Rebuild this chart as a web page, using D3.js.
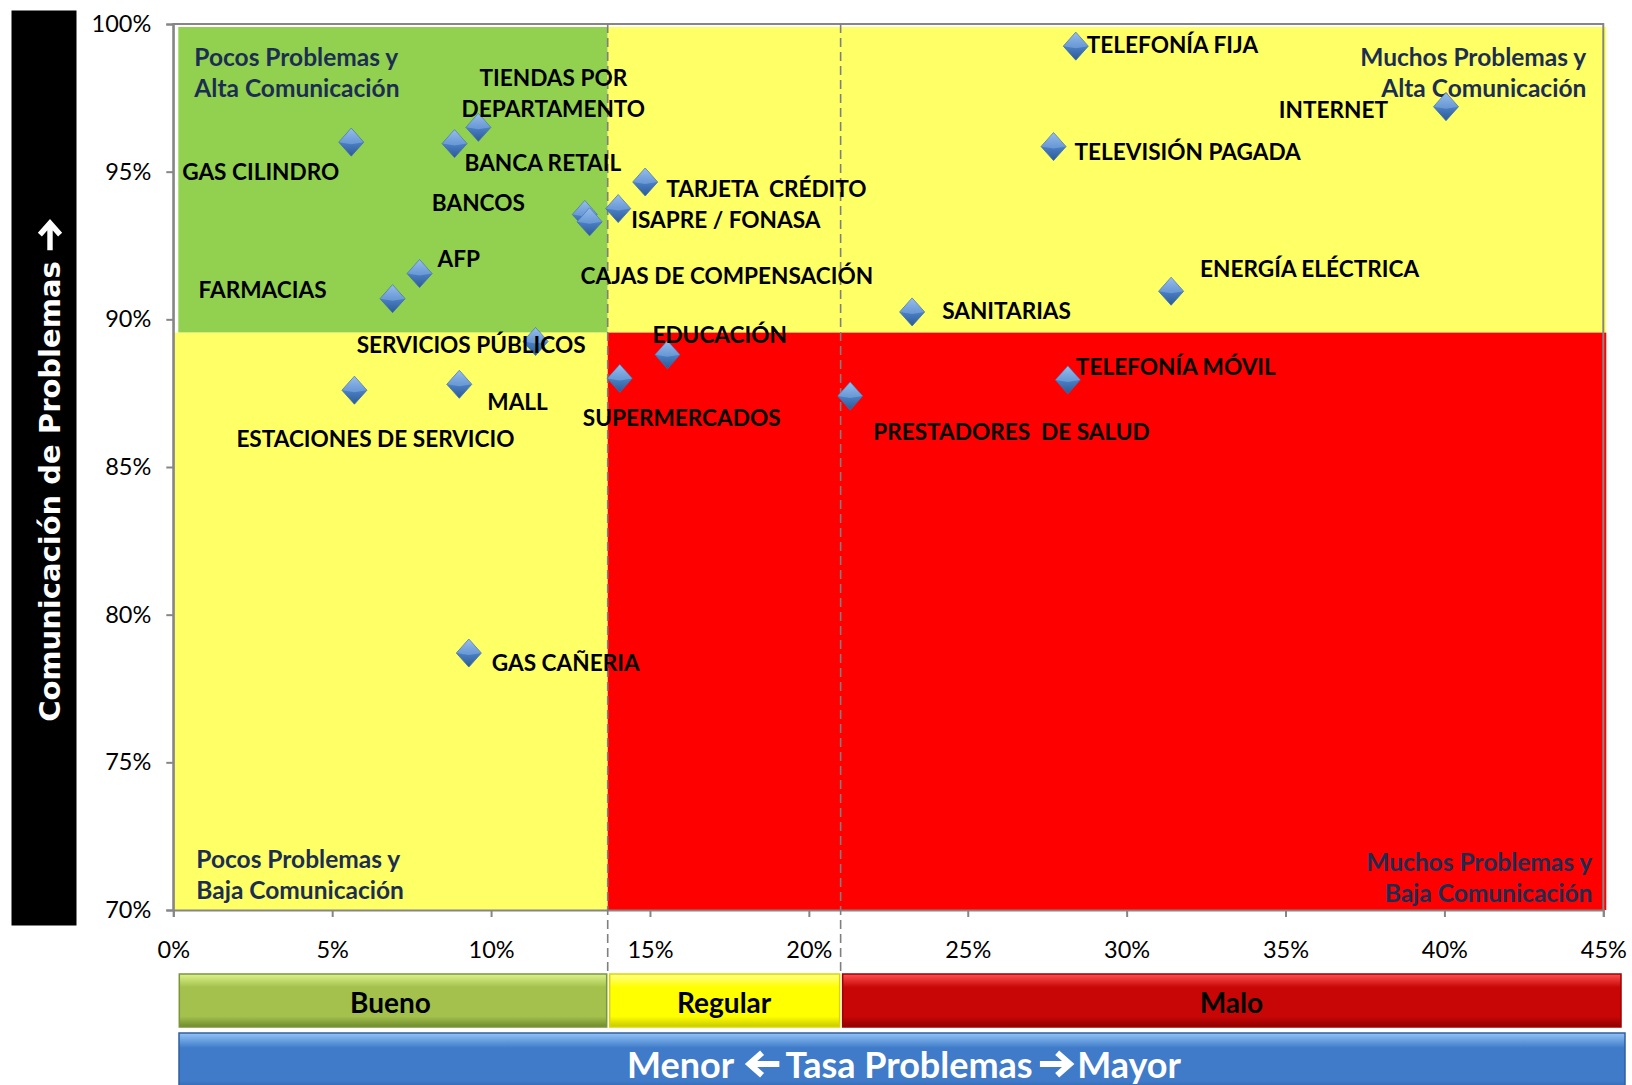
<!DOCTYPE html>
<html lang="es">
<head>
<meta charset="UTF-8">
<title>Tasa de problemas vs comunicación</title>
<script src="https://cdn.jsdelivr.net/npm/d3@7"></script>
<style>
  body { margin: 0; background: #fff; }
  svg { display: block; }
  text { white-space: pre; }
</style>
</head>
<body>
<div id="chart"></div>
<script>
// sectores y valores (tasa de problemas %, comunicación de problemas %)
const sectores = [
  "GAS CILINDRO", "TIENDAS POR|DEPARTAMENTO", "BANCA RETAIL", "BANCOS",
  "CAJAS DE COMPENSACIÓN", "ISAPRE / FONASA", "TARJETA  CRÉDITO", "AFP",
  "FARMACIAS", "SERVICIOS PÚBLICOS", "ESTACIONES DE SERVICIO", "MALL",
  "GAS CAÑERIA", "SUPERMERCADOS", "EDUCACIÓN", "PRESTADORES  DE SALUD",
  "SANITARIAS", "TELEFONÍA MÓVIL", "ENERGÍA ELÉCTRICA", "TELEVISIÓN PAGADA",
  "TELEFONÍA FIJA", "INTERNET"
]
const tasaProblemas = [
  5.6, 9.6, 8.85, 12.95, 13.1, 14.0, 14.85, 7.75, 6.9, 11.4, 5.7, 9.0,
  9.3, 14.05, 15.55, 21.3, 23.25, 28.15, 31.4, 27.7, 28.4, 40.05
]
const comunicacion = [
  96.0, 96.5, 95.95, 93.55, 93.3, 93.75, 94.65, 91.55, 90.7, 89.25, 87.6, 87.8,
  78.7, 88.0, 88.8, 87.4, 90.25, 87.95, 90.95, 95.85, 99.25, 97.2
]
const xTicks = [0, 5, 10, 15, 20, 25, 30, 35, 40, 45]
const yTicks = [70, 75, 80, 85, 90, 95, 100]

// cortes de las zonas
const corteBueno = 13.67
const corteRegular = 21.0
const corteComunicacion = 89.55
const bandas = ["Bueno", "Regular", "Malo"]

// posicion de cada etiqueta respecto a su punto [dx, dy, anchor]
const labelPos = [
  [-12, 29, "end"], [75, -50, "middle"], [10, 18, "start"], [-60, -12, "end"],
  [-9, 53, "start"], [13, 10, "start"], [21, 6, "start"], [18, -16, "start"],
  [-66, -10, "end"], [50, 3, "end"], [21, 48, "middle"], [28, 17, "start"],
  [23, 9, "start"], [-37, 39, "start"], [-15, -21, "start"], [23, 35, "start"],
  [30, -2, "start"], [8, -14, "start"], [29, -23, "start"], [21, 4, "start"],
  [11, -2, "start"], [-58, 2, "end"]
]

const W = 1632, H = 1085
const mLeft = 173.3, mRight = 1603.3, mTop = 24, mBottom = 910
const font = "Lato, 'Open Sans', sans-serif"
const EM = "\u2003"

const x = d3.scaleLinear().domain([0, 45]).range([mLeft, mRight])
const y = d3.scaleLinear().domain([70, 100]).range([mBottom, mTop])

const svg = d3.select("#chart").append("svg")
  .attr("width", W).attr("height", H)
  .style("background", "#fff")

const defs = svg.append("defs")

const mk = defs.append("linearGradient").attr("id", "diam")
  .attr("x1", 0).attr("y1", 0).attr("x2", 0).attr("y2", 1)
mk.append("stop").attr("offset", "0%").attr("stop-color", "#8FB7EA")
mk.append("stop").attr("offset", "45%").attr("stop-color", "#4F85CC")
mk.append("stop").attr("offset", "100%").attr("stop-color", "#2B5A96")

function bevel(id, c1, c2, c3) {
  const g = defs.append("linearGradient").attr("id", id)
    .attr("x1", 0).attr("y1", 0).attr("x2", 0).attr("y2", 1)
  g.append("stop").attr("offset", "0%").attr("stop-color", c1)
  g.append("stop").attr("offset", "25%").attr("stop-color", c2)
  g.append("stop").attr("offset", "80%").attr("stop-color", c2)
  g.append("stop").attr("offset", "100%").attr("stop-color", c3)
}
bevel("gBueno", "#DDF28C", "#A3C14C", "#6F8B2E")
bevel("gRegular", "#FFFF8A", "#FFFF00", "#C8C800")
bevel("gMalo", "#FF5050", "#C80606", "#8E0000")
bevel("gAzul", "#93C4F7", "#3F7BC9", "#2A5896")

// flecha gruesa dibujada sobre el hueco de un caracter
function flecha(g, textEl, idx, dir, color, size) {
  const a = textEl.getStartPositionOfChar(idx)
  const b = textEl.getEndPositionOfChar(idx)
  const cx = (a.x + b.x) / 2, cy = a.y
  const h = size / 2
  g.append("path")
    .attr("transform", `translate(${cx},${cy}) scale(${dir},1)`)
    .attr("d", `M${-h},0H${h - 1}M${h * 0.15},${-h * 0.75}L${h},0L${h * 0.15},${h * 0.75}`)
    .attr("fill", "none").attr("stroke", color)
    .attr("stroke-width", size * 0.2).attr("stroke-linejoin", "miter")
}

// zonas de fondo
const zonas = [
  { x0: 0, x1: corteBueno, y0: corteComunicacion, y1: 100, c: "#92D050", inset: 5 },
  { x0: corteBueno, x1: 45, y0: corteComunicacion, y1: 100, c: "#FFFF66", inset: 0 },
  { x0: 0, x1: corteBueno, y0: 70, y1: corteComunicacion, c: "#FFFF66", inset: 0 },
  { x0: corteBueno, x1: 45, y0: 70, y1: corteComunicacion, c: "#FF0000", inset: 0 }
]
svg.append("g").selectAll("rect").data(zonas).join("rect")
  .attr("x", d => x(d.x0) + d.inset)
  .attr("y", d => d.y1 === 100 ? y(d.y1) + 3 : y(d.y1))
  .attr("width", d => x(d.x1) - x(d.x0) - d.inset + (d.x1 === 45 ? 3 : 0))
  .attr("height", d => y(d.y0) - y(d.y1) - (d.y1 === 100 ? 3 : 0))
  .attr("fill", d => d.c)

// borde del area
svg.append("path")
  .attr("d", `M${mLeft},${mBottom}V${mTop}H${mRight}V${mBottom}`)
  .attr("fill", "none").attr("stroke", "#868686").attr("stroke-width", 2)

// ejes
const yAxis = svg.append("g").attr("transform", `translate(${mLeft},0)`)
  .call(d3.axisLeft(y).tickValues(yTicks).tickSize(7).tickFormat(d => d + "%"))
const xAxis = svg.append("g").attr("transform", `translate(0,${mBottom})`)
  .call(d3.axisBottom(x).tickValues(xTicks).tickSize(7).tickFormat(d => d + "%"))
for (const a of [xAxis, yAxis]) {
  a.select(".domain").attr("stroke", "#868686").attr("stroke-width", 2)
  a.selectAll(".tick line").attr("stroke", "#868686").attr("stroke-width", 2)
  a.selectAll(".tick text").attr("fill", "#000")
    .style("font-family", font).style("font-size", "23.5px")
}
yAxis.selectAll(".tick text").attr("x", -22)
xAxis.selectAll(".tick text").attr("y", 31)

// lineas punteadas de corte
svg.append("g").selectAll("line").data([corteBueno, corteRegular]).join("line")
  .attr("x1", d => x(d)).attr("x2", d => x(d))
  .attr("y1", mTop).attr("y2", 974)
  .attr("stroke", "#7F7F7F").attr("stroke-width", 1.6)
  .attr("stroke-dasharray", "9,5")

// textos de cuadrantes
const cuadrantes = [
  { t: ["Pocos Problemas y", "Alta Comunicación"], px: 0, py: 100, dx: 21, dy: 32, a: "start" },
  { t: ["Muchos Problemas y", "Alta Comunicación"], px: 45, py: 100, dx: -17, dy: 32, a: "end" },
  { t: ["Pocos Problemas y", "Baja Comunicación"], px: 0, py: 70, dx: 23, dy: -52, a: "start" },
  { t: ["Muchos Problemas y", "Baja Comunicación"], px: 45, py: 70, dx: -11, dy: -49, a: "end" }
]
const cq = svg.append("g").selectAll("text").data(cuadrantes).join("text")
  .attr("x", d => x(d.px) + d.dx)
  .attr("y", d => y(d.py) + d.dy)
  .attr("text-anchor", d => d.a)
  .attr("dominant-baseline", "central")
  .attr("fill", "#1B2E52")
  .style("font-family", font).style("font-weight", 700).style("font-size", "24.5px")
cq.selectAll("tspan").data(d => d.t.map(t => ({ t, d }))).join("tspan")
  .attr("x", e => x(e.d.px) + e.d.dx)
  .attr("dy", (e, i) => i ? 31 : 0)
  .text(e => e.t)

// puntos
const puntos = sectores.map((s, i) => ({ s, tx: tasaProblemas[i], cy: comunicacion[i], p: labelPos[i] }))

const marcas = svg.append("g").selectAll("g").data(puntos).join("g")
  .attr("transform", d => `translate(${x(d.tx)},${y(d.cy)})`)
marcas.append("path")
  .attr("d", "M0,-14L12.5,0L0,14L-12.5,0Z")
  .attr("fill", "url(#diam)")
  .attr("stroke", "#3C6DAE").attr("stroke-width", 0.8)
marcas.append("path")
  .attr("d", "M0,-14L12.5,0L0,2L-12.5,0Z")
  .attr("fill", "#A9CBF2").attr("opacity", 0.35)

const lab = svg.append("g").selectAll("text").data(puntos).join("text")
  .attr("x", d => x(d.tx) + d.p[0])
  .attr("y", d => y(d.cy) + d.p[1])
  .attr("text-anchor", d => d.p[2])
  .attr("dominant-baseline", "central")
  .attr("fill", "#000")
  .style("font-family", font).style("font-weight", 700).style("font-size", "22.6px")
lab.selectAll("tspan").data(d => d.s.split("|").map(t => ({ t, d }))).join("tspan")
  .attr("x", e => x(e.d.tx) + e.d.p[0])
  .attr("dy", (e, i) => i ? 31 : 0)
  .text(e => e.t)

// bandas inferiores
const limites = [0, corteBueno, corteRegular]
const bandG = svg.append("g").selectAll("g").data(bandas).join("g")
bandG.append("rect")
  .attr("x", (d, i) => x(limites[i]) + (i ? 2 : 6))
  .attr("y", 974)
  .attr("width", (d, i) => (i < 2 ? x(limites[i + 1]) : 1622) - x(limites[i]) - (i ? 3 : 7))
  .attr("height", 53)
  .attr("fill", (d, i) => ["url(#gBueno)", "url(#gRegular)", "url(#gMalo)"][i])
  .attr("stroke", (d, i) => ["#7A963A", "#D8D800", "#A00000"][i])
  .attr("stroke-width", 1.5)
bandG.append("text")
  .attr("x", (d, i) => ((i < 2 ? x(limites[i + 1]) : 1622) + x(limites[i])) / 2)
  .attr("y", 1002)
  .attr("text-anchor", "middle").attr("dominant-baseline", "central")
  .attr("fill", "#000")
  .style("font-family", font).style("font-weight", 700).style("font-size", "28px")
  .text(d => d)

svg.append("rect")
  .attr("x", 179).attr("y", 1033).attr("width", 1446).attr("height", 60)
  .attr("fill", "url(#gAzul)").attr("stroke", "#2F5F9E").attr("stroke-width", 1.5)
const ejeG = svg.append("g")
const ejeTxt = "Menor  " + EM + " Tasa Problemas " + EM + " Mayor"
const eje = ejeG.append("text")
  .attr("x", 904).attr("y", 1064)
  .attr("text-anchor", "middle").attr("dominant-baseline", "central")
  .attr("fill", "#fff")
  .style("font-family", font).style("font-weight", 700).style("font-size", "36px")
  .text(ejeTxt)
flecha(ejeG, eje.node(), ejeTxt.indexOf(EM), -1, "#fff", 30)
flecha(ejeG, eje.node(), ejeTxt.lastIndexOf(EM), 1, "#fff", 30)

// titulo eje Y
svg.append("rect").attr("x", 11.5).attr("y", 10.5).attr("width", 65).attr("height", 915)
  .attr("fill", "#000")
const tituloG = svg.append("g").attr("transform", "translate(50,472) rotate(-90)")
const tituloTxt = "Comunicación de Problemas " + EM
const titulo = tituloG.append("text")
  .attr("text-anchor", "middle").attr("dominant-baseline", "central")
  .attr("fill", "#fff")
  .style("font-family", "'DejaVu Sans', Verdana, sans-serif").style("font-weight", 700).style("font-size", "29px")
  .text(tituloTxt)
flecha(tituloG, titulo.node(), tituloTxt.indexOf(EM), 1, "#fff", 27)
</script>
</body>
</html>
